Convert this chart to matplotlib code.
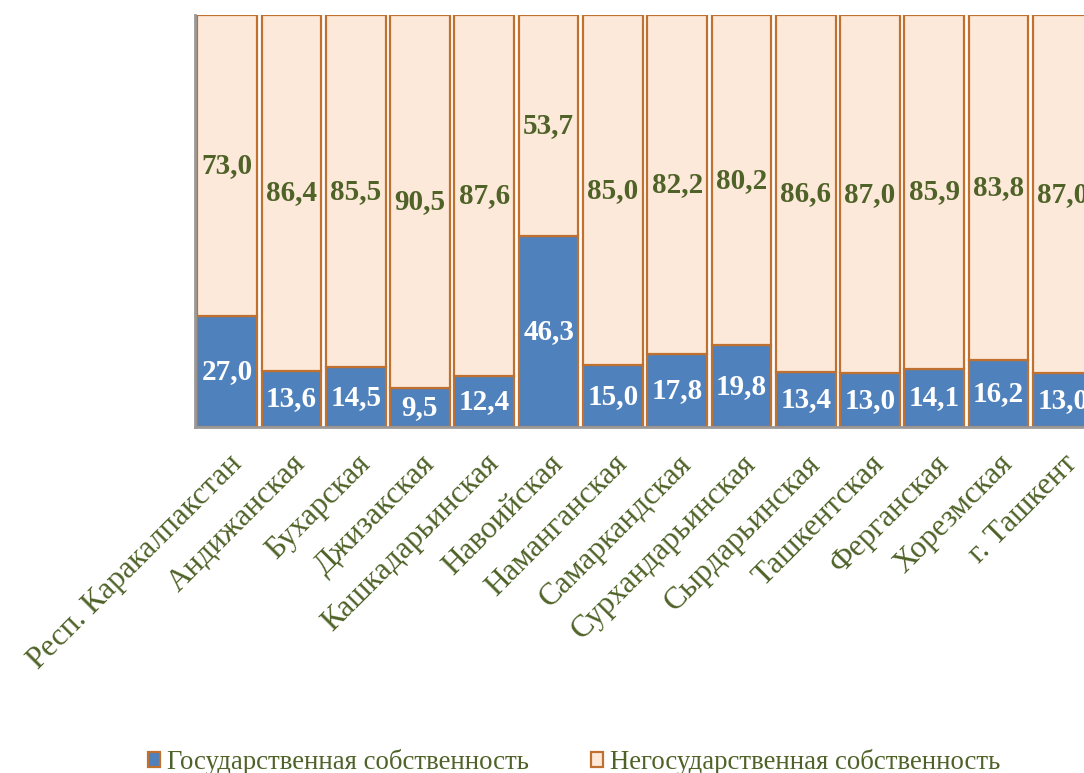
import matplotlib.pyplot as plt
import numpy as np

regions = ["Респ. Каракалпакстан", "Андижанская", "Бухарская", "Джизакская",
           "Кашкадарьинская", "Навоийская", "Наманганская", "Самаркандская",
           "Сурхандарьинская", "Сырдарьинская", "Ташкентская", "Ферганская",
           "Хорезмская", "г. Ташкент"]
state = [27.0, 13.6, 14.5, 9.5, 12.4, 46.3, 15.0, 17.8, 19.8, 13.4, 13.0, 14.1, 16.2, 13.0]
nonstate = [73.0, 86.4, 85.5, 90.5, 87.6, 53.7, 85.0, 82.2, 80.2, 86.6, 87.0, 85.9, 83.8, 87.0]

blue = "#4F81BD"
light = "#FDE9D9"
edge = "#C0702F"
olive = "#4F6228"

plt.rcParams["font.family"] = ["Liberation Serif", "DejaVu Serif"]

fig = plt.figure(figsize=(10.84, 7.73), dpi=100)
# axes runs a little past the right edge, the last bar is clipped like in the source
ax = fig.add_axes([195 / 1084, 346 / 773, 900 / 1084, 412 / 773])

x = np.arange(len(regions))
w = 0.93
ax.bar(x, state, w, color=blue, edgecolor=edge, linewidth=1.6,
       label="Государственная собственность")
ax.bar(x, nonstate, w, bottom=state, color=light, edgecolor=edge, linewidth=1.6,
       label="Негосударственная собственность")

for i in range(len(regions)):
    ax.text(x[i], state[i] / 2, f"{state[i]:.1f}".replace(".", ","),
            ha="center", va="center", color="white", fontsize=21, fontweight="bold")
    ax.text(x[i], state[i] + nonstate[i] / 2, f"{nonstate[i]:.1f}".replace(".", ","),
            ha="center", va="center", color=olive, fontsize=21, fontweight="bold")

ax.set_xlim(-0.5, len(regions) - 0.5)
ax.set_ylim(0, 100)
ax.set_yticks([])
ax.set_xticks(x)
ax.set_xticklabels(regions, rotation=45, ha="right", rotation_mode="anchor",
                   fontsize=22.5, color=olive)
ax.tick_params(axis="x", length=0, pad=16)
for s in ["top", "right"]:
    ax.spines[s].set_visible(False)
for s in ["left", "bottom"]:
    ax.spines[s].set_color("#999999")
    ax.spines[s].set_linewidth(2)

leg = fig.legend(loc="center", bbox_to_anchor=(574 / 1084, 1 - 762 / 773), ncol=2,
                 frameon=False, fontsize=19.3, handlelength=0.45, handleheight=0.45,
                 handletextpad=0.28, columnspacing=2.3)
for t in leg.get_texts():
    t.set_color(olive)

fig.savefig("out.png", dpi=100)
